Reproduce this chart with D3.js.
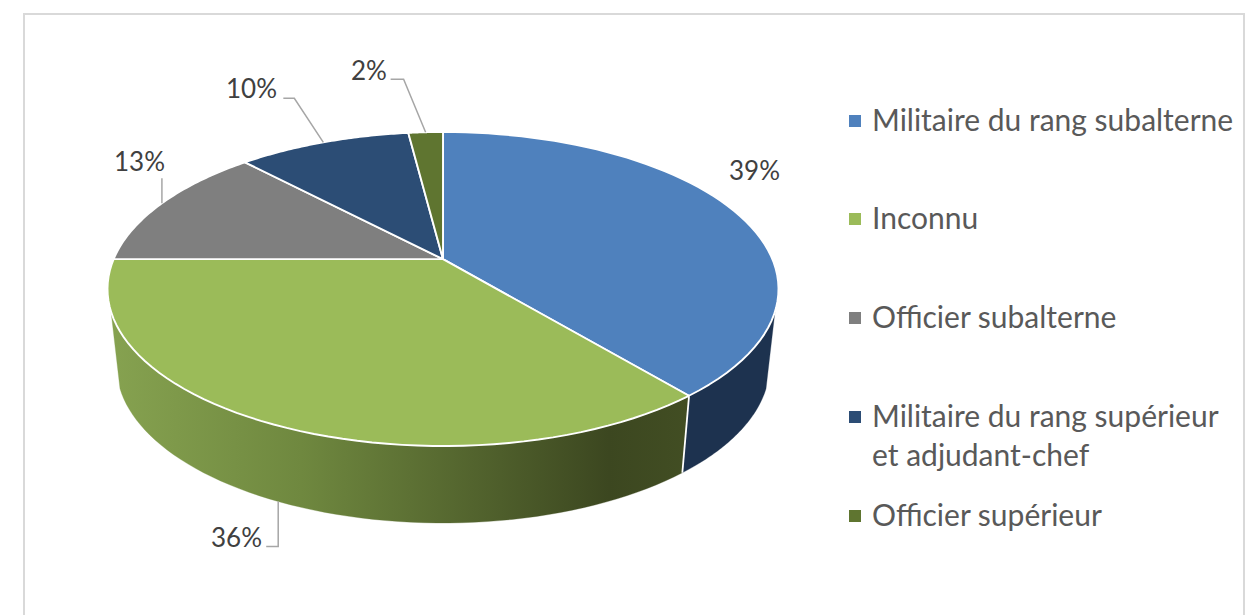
<!DOCTYPE html>
<html><head><meta charset="utf-8">
<script src="https://cdn.jsdelivr.net/npm/d3@7"></script>
<style>html,body{margin:0;padding:0;background:#fff}svg{display:block}text{font-family:Lato,"Open Sans",sans-serif}</style>
</head><body><svg id="c" width="1248" height="615"></svg>
<script>
const categories=["Militaire du rang subalterne","Inconnu","Officier subalterne","Militaire du rang supérieur|et adjudant-chef","Officier supérieur"];
const values=[39,36,13,10,2];
const topColors=["#4f81bd","#9bbb59","#7f7f7f","#2c4d75","#5f7530"];
const percentLabels=["39%","36%","13%","10%","2%"];

const svg=d3.select("#c");
const cx=443,cy=289,rx=335.5,ry=157,k=-0.19,depth=77,botScale=0.973;
const q=Math.sqrt(1-k*k);
const pie=d3.pie().sort(null).startAngle(0).endAngle(2*Math.PI);
const arcs=pie(values);
const project=a=>{const u=Math.sin(a),v=-Math.cos(a),w=1+k*v;return [u*q/w,(v+k)/w];};
const topPt=a=>{const p=project(a);return [cx+rx*p[0],cy+ry*p[1]];};
const botPt=a=>{const p=project(a);return [cx+rx*botScale*p[0],cy+depth+ry*p[1]];};
const sample=(a0,a1)=>d3.range(0,61).map(i=>a0+(a1-a0)*i/60);
const line=d3.line();
const apex=[cx,cy+ry*k];

const defs=svg.append("defs");
const gr=defs.append("linearGradient").attr("id","gw").attr("gradientUnits","userSpaceOnUse")
 .attr("x1",110).attr("x2",690).attr("y1",0).attr("y2",0);
[[0,"#86a250"],[0.33,"#6f883f"],[0.86,"#3c4720"],[1,"#424e23"]].forEach(s=>gr.append("stop").attr("offset",s[0]).attr("stop-color",s[1]));

svg.append("rect").attr("x",24).attr("y",14).attr("width",1220).attr("height",640).attr("fill","#fff").attr("stroke","#d9d9d9").attr("stroke-width",2);

// outer wall: only the front part of the rim is visible
const wallFrom=109*Math.PI/180,wallTo=251*Math.PI/180;
const wall=(a0,a1,fill)=>{
  const pts=sample(a0,a1).map(topPt).concat(sample(a0,a1).reverse().map(botPt));
  svg.append("path").attr("d",line(pts)+"Z").attr("fill",fill).attr("stroke",fill).attr("stroke-width",0.3);
};
wall(wallFrom,arcs[0].endAngle,"#1d324f");
wall(arcs[1].startAngle,wallTo,"url(#gw)");
svg.append("line").attr("x1",topPt(arcs[0].endAngle)[0]).attr("y1",topPt(arcs[0].endAngle)[1]+1)
  .attr("x2",botPt(arcs[0].endAngle)[0]).attr("y2",botPt(arcs[0].endAngle)[1]).attr("stroke","#fff").attr("stroke-width",1.8);

// top faces
arcs.forEach((d,i)=>{
  const pts=[apex].concat(sample(d.startAngle,d.endAngle).map(topPt));
  svg.append("path").attr("d",line(pts)+"Z").attr("fill",topColors[i]).attr("stroke","#fff").attr("stroke-width",1.9).attr("stroke-linejoin","round");
});

// leaders and percentage labels
const leaderColor="#a6a6a6",labelColor="#404040",labelSize=26;
const mid=d=>(d.startAngle+d.endAngle)/2;
const labelLayout=[
 {x:729,y:180,anchor:null},
 {x:211,y:547,anchor:botPt,via:[[0,45],[-12,45]]},
 {x:114,y:171,anchor:topPt,via:[[0,-25]]},
 {x:226,y:98,anchor:topPt,via:[[-29,-44],[-40,-44]]},
 {x:351,y:80,anchor:topPt,via:[[-22,-53],[-35,-53]]}
];
arcs.forEach((d,i)=>{
  const L=labelLayout[i];
  if(L.anchor){
    const s=L.anchor(mid(d));
    const pts=[s].concat(L.via.map(o=>[s[0]+o[0],s[1]+o[1]]));
    svg.append("path").attr("d",line(pts)).attr("fill","none").attr("stroke",leaderColor).attr("stroke-width",1.5);
  }
  svg.append("text").attr("x",L.x).attr("y",L.y).attr("font-size",labelSize).attr("fill",labelColor).text(percentLabels[i]);
});

// legend
const legendBaselines=[131,229,328,427,526];
const legendSize=30,lineGap=39;
categories.forEach((c,i)=>{
  const y=legendBaselines[i];
  svg.append("rect").attr("x",849).attr("y",y-16).attr("width",12).attr("height",12).attr("fill",topColors[i]);
  c.split("|").forEach((t,j)=>{
    svg.append("text").attr("x",872).attr("y",y+j*lineGap).attr("font-size",legendSize).attr("fill","#595959").text(t);
  });
});
</script></body></html>
